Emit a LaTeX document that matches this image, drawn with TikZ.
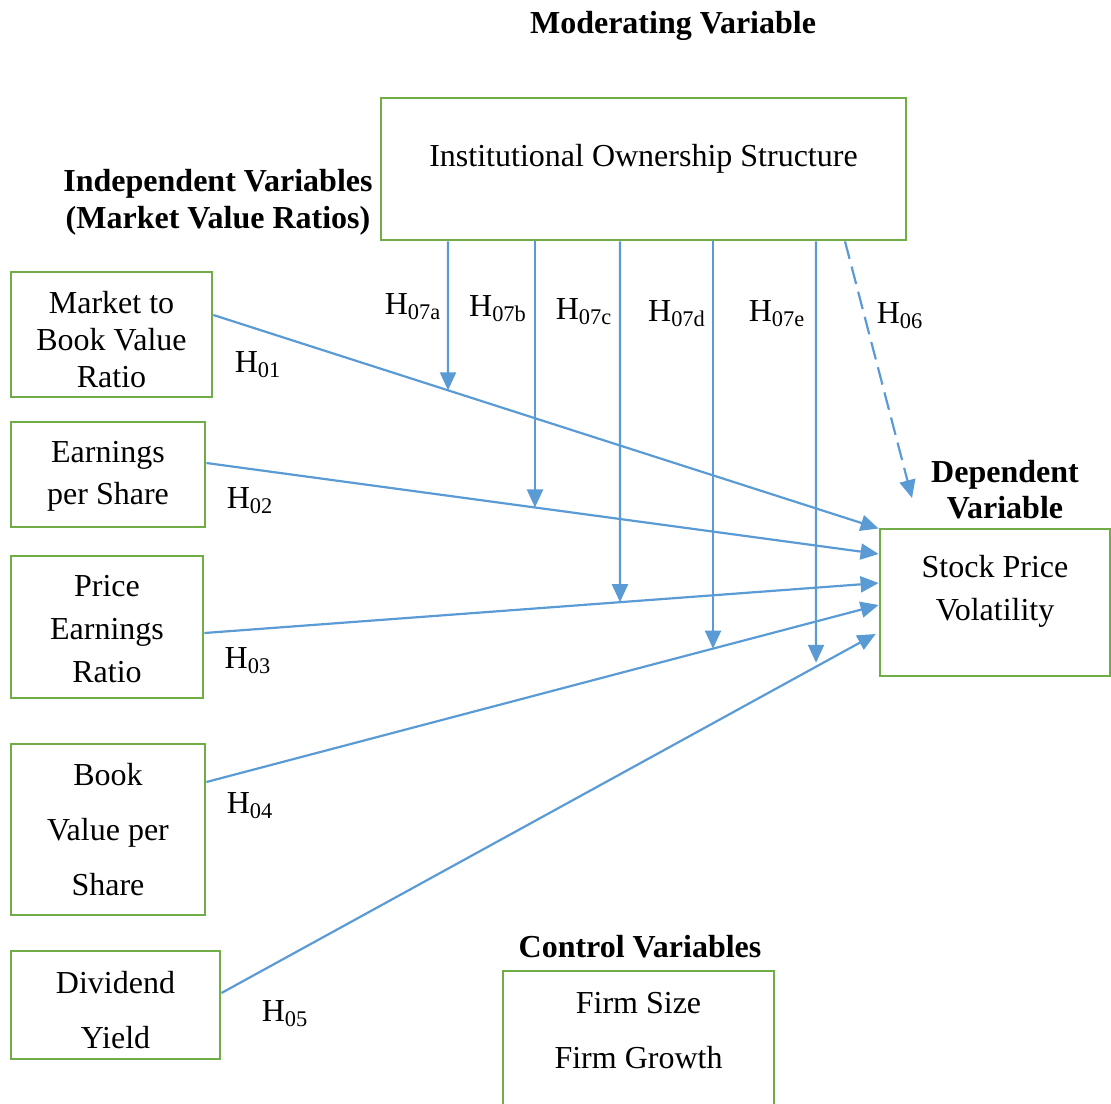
\documentclass[tikz,border=0pt]{standalone}
\usepackage{fontspec}
\setmainfont{Liberation Serif}
\usetikzlibrary{arrows.meta,calc}
\definecolor{boxgreen}{HTML}{70AD47}
\definecolor{arrblue}{HTML}{5B9BD5}
\begin{document}
\begin{tikzpicture}[x=0.5pt,y=-0.5pt,
  box/.style={draw=boxgreen,line width=1.4pt,inner sep=0pt},
  txt/.style={font=\fontsize{16}{18.5}\selectfont,align=center,inner sep=0pt},
  head/.style={font=\fontsize{16}{18.5}\selectfont\bfseries,align=center,inner sep=0pt},
  hyp/.style={font=\fontsize{16}{18}\selectfont,inner sep=0pt},
  link/.style={draw=arrblue,line width=1.1pt,-{Triangle[length=9pt,width=8pt]}},
  dashlink/.style={link,dash pattern=on 9pt off 4pt},
]
\useasboundingbox (0,0) rectangle (1111,1103);

% headings
\node[head] (hmod) at (673,26) {Moderating Variable};
\node[head] (hind) at (218,202) {Independent Variables\\(Market Value Ratios)};
\node[head,font=\fontsize{16}{18}\selectfont\bfseries] (hdep) at (1005,490) {Dependent\\Variable};
\node[head] (hctl) at (640,947) {Control Variables};

% boxes
\node[box,minimum width=262.5pt,minimum height=71pt] (mod) at (643.5,169) {};
\node[txt] (modt) at (643.5,159) {Institutional Ownership Structure};

\node[box,minimum width=100.5pt,minimum height=62.5pt] (b1) at (111.5,334.5) {};
\node[txt] (b1t) at (111.5,340) {Market to\\Book Value\\Ratio};

\node[box,minimum width=97pt,minimum height=52.5pt] (b2) at (108,474.5) {};
\node[txt,font=\fontsize{16}{21}\selectfont] (b2t) at (108,476) {Earnings\\per Share};

\node[box,minimum width=96pt,minimum height=71pt] (b3) at (107,627) {};
\node[txt,font=\fontsize{16}{21.5}\selectfont] (b3t) at (107,629) {Price\\Earnings\\Ratio};

\node[box,minimum width=97pt,minimum height=85.5pt] (b4) at (108,829.5) {};
\node[txt,font=\fontsize{16}{27.5}\selectfont] (b4t) at (108,830) {Book\\Value per\\Share};

\node[box,minimum width=104.5pt,minimum height=54pt] (b5) at (115.5,1005) {};
\node[txt,font=\fontsize{16}{27.5}\selectfont] (b5t) at (115.5,1010) {Dividend\\Yield};

\node[box,minimum width=115pt,minimum height=73.5pt] (dep) at (995,602.5) {};
\node[txt,font=\fontsize{16}{21.5}\selectfont] (dept) at (995,591) {Stock Price\\Volatility};

\node[box,minimum width=135.5pt,minimum height=72pt] (ctl) at (638.5,1043) {};
\node[txt,font=\fontsize{16}{27.5}\selectfont] (ctlt) at (638.5,1031) {Firm Size\\Firm Growth};

% direct paths
\coordinate (s1) at ($(b1.east)+(0,-19.5)$);
\coordinate (t1) at ($(dep.west)+(0,-74)$);
\coordinate (s2) at ($(b2.east)+(0,-11.5)$);
\coordinate (t2) at ($(dep.west)+(0,-48.5)$);
\coordinate (s3) at ($(b3.east)+(0,6)$);
\coordinate (t3) at ($(dep.west)+(0,-19.5)$);
\coordinate (s4) at ($(b4.east)+(0,-47.5)$);
\coordinate (t4) at ($(dep.west)+(0,2.5)$);
\coordinate (s5) at ($(b5.east)+(0,-12)$);
\coordinate (t5) at ($(dep.west)+(-3,31.5)$);

\draw[link] (s1) -- (t1);
\draw[link] (s2) -- (t2);
\draw[link] (s3) -- (t3);
\draw[link] (s4) -- (t4);
\draw[link] (s5) -- (t5);

% moderating paths
\coordinate (m1) at (mod.south -| 448,0);
\coordinate (m2) at (mod.south -| 535,0);
\coordinate (m3) at (mod.south -| 620,0);
\coordinate (m4) at (mod.south -| 713,0);
\coordinate (m5) at (mod.south -| 816,0);
\coordinate (m6) at (mod.south -| 845,0);
\coordinate (d6) at (912,498);

\draw[link] (m1) -- (intersection of m1--{$(m1)+(0,500)$} and s1--t1);
\draw[link] (m2) -- (intersection of m2--{$(m2)+(0,500)$} and s2--t2);
\draw[link] (m3) -- (intersection of m3--{$(m3)+(0,500)$} and s3--t3);
\draw[link] (m4) -- (intersection of m4--{$(m4)+(0,500)$} and s4--t4);
\draw[link] (m5) -- ($(intersection of m5--{$(m5)+(0,500)$} and s5--t5)+(0,-4)$);
\draw[dashlink] (m6) -- (d6);

% hypothesis labels
\node[hyp] (h7a) at (413,307) {H\textsubscript{07a}};
\node[hyp] (h7b) at (498,309) {H\textsubscript{07b}};
\node[hyp] (h7c) at (584,312) {H\textsubscript{07c}};
\node[hyp] (h7d) at (677,314) {H\textsubscript{07d}};
\node[hyp] (h7e) at (777,314) {H\textsubscript{07e}};
\node[hyp] (h6) at (900,316) {H\textsubscript{06}};
\node[hyp] (h1) at (258,365) {H\textsubscript{01}};
\node[hyp] (h2) at (250,501) {H\textsubscript{02}};
\node[hyp] (h3) at (248,661) {H\textsubscript{03}};
\node[hyp] (h4) at (250,806) {H\textsubscript{04}};
\node[hyp] (h5) at (285,1014) {H\textsubscript{05}};
\end{tikzpicture}
\end{document}
